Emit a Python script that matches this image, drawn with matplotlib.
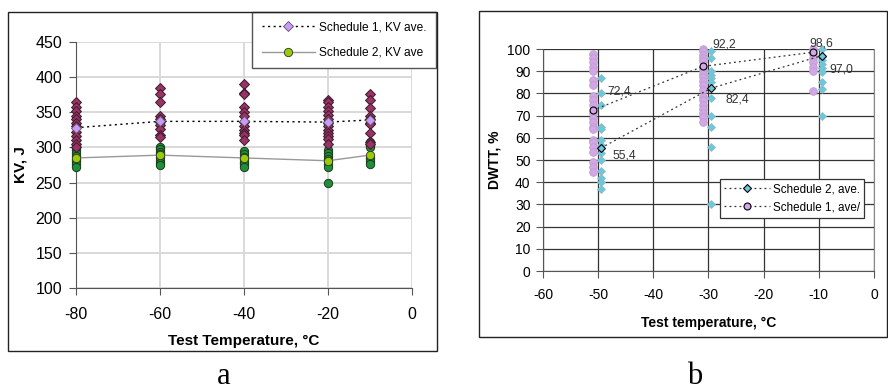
import matplotlib
matplotlib.use("Agg")
import matplotlib.pyplot as plt
from matplotlib.patches import Rectangle

plt.rcParams['font.family'] = ['Liberation Sans', 'DejaVu Sans']
plt.rcParams['axes.unicode_minus'] = False

# ---------------- Panel a data (KV, J) ----------------
kv_temps = [-80, -60, -40, -20, -10]
kv_s1_points = [
    [365, 358, 352, 345, 340, 335, 330, 322, 316, 310, 305, 300],
    [384, 376, 364, 344, 340, 336, 332, 326, 318, 315],
    [390, 378, 376, 357, 350, 345, 336, 330, 325, 320, 318, 310],
    [368, 364, 358, 352, 346, 340, 334, 330, 325, 320, 316, 312, 305],
    [376, 368, 356, 345, 340, 335, 333, 320, 308, 305],
]
kv_s2_points = [
    [300, 296, 292, 288, 284, 280, 276, 272],
    [301, 298, 294, 290, 286, 282, 278, 275],
    [295, 291, 287, 283, 279, 276, 272],
    [296, 292, 288, 284, 280, 276, 272, 249],
    [307, 303, 300, 285, 280, 277],
]
kv_s1_ave = [328, 337, 337, 336, 339]
kv_s2_ave = [285, 289, 285, 281, 289]

# ---------------- Panel b data (DWTT, %) ----------------
dw_s1_temps = [-51, -31, -11]
dw_s2_temps = [-49.5, -29.5, -9.5]
dw_s1_points = [
    [98, 96, 94, 92, 90, 86, 84, 79, 77, 75, 71, 69, 67, 65, 64, 59, 58, 56, 53.5, 49, 47, 44.5],
    [100, 99, 97.5, 96, 94.5, 92, 90.5, 89, 87.5, 85.5, 84, 81.5, 78.5, 77, 75, 73, 71, 69.5, 67],
    [100, 98, 96, 94, 92, 90, 81],
]
dw_s2_points = [
    [87, 80, 75, 65, 64, 59, 57, 53, 50, 45, 42, 40, 37],
    [99, 96, 90, 88.5, 87, 85, 78, 70, 65, 56, 30],
    [100, 97, 95, 93.5, 91.5, 89.5, 85, 82, 70],
]
dw_s1_ave = [72.4, 92.2, 98.6]
dw_s2_ave = [55.4, 82.4, 97.0]
dw_s1_labels = ["72,4", "92,2", "98,6"]
dw_s2_labels = ["55,4", "82,4", "97,0"]

fig = plt.figure(figsize=(8.88, 3.9), dpi=100)

# outer frames
fig.patches.append(Rectangle((0.009, 0.100), 0.483, 0.869, transform=fig.transFigure,
                             fill=False, edgecolor='#222222', linewidth=1.0))
fig.patches.append(Rectangle((0.5394, 0.1359), 0.4595, 0.836, transform=fig.transFigure,
                             fill=False, edgecolor='#222222', linewidth=1.0))

# ---------------- Panel a ----------------
ax1 = fig.add_axes([0.0856, 0.2615, 0.378, 0.631])
for t, pts in zip(kv_temps, kv_s2_points):
    ax1.plot([t] * len(pts), pts, linestyle='none', marker='o', markersize=6,
             markerfacecolor='#1f8f3a', markeredgecolor='#1a3a1a', markeredgewidth=0.7,
             zorder=3, clip_on=False)
for t, pts in zip(kv_temps, kv_s1_points):
    ax1.plot([t] * len(pts), pts, linestyle='none', marker='D', markersize=5,
             markerfacecolor='#993366', markeredgecolor='#3a1a2a', markeredgewidth=0.7,
             zorder=3, clip_on=False)
l1, = ax1.plot(kv_temps, kv_s1_ave, linestyle=(0, (1.5, 2.5)), color='black', linewidth=1.0,
               marker='D', markersize=5, markerfacecolor='#CC99FF', markeredgecolor='#555555',
               markeredgewidth=0.6, zorder=4, label='Schedule 1, KV ave.', clip_on=False)
l2, = ax1.plot(kv_temps, kv_s2_ave, linestyle='-', color='#999999', linewidth=1.0,
               marker='o', markersize=6, markerfacecolor='#99CC00', markeredgecolor='#333333',
               markeredgewidth=0.6, zorder=4, label='Schedule 2, KV ave', clip_on=False)
ax1.set_xlim(-80, 0)
ax1.set_ylim(100, 450)
ax1.set_xticks(range(-80, 1, 20))
ax1.set_yticks(range(100, 451, 50))
ax1.grid(True, color='#d9d9d9', linewidth=1.4, zorder=0)
ax1.set_axisbelow(True)
for s in ['top', 'right']:
    ax1.spines[s].set_visible(False)
for s in ['left', 'bottom']:
    ax1.spines[s].set_color('#555555')
ax1.tick_params(direction='out', length=5, color='#555555', labelsize=11.5)
ax1.tick_params(axis='x', pad=9)
ax1.tick_params(axis='y', pad=5)
ax1.set_xlabel('Test Temperature, °C', fontsize=11, fontweight='bold', labelpad=8)
ax1.set_ylabel('KV, J', fontsize=11, fontweight='bold', labelpad=6)
leg1 = ax1.legend(handles=[l1, l2], loc='upper left', bbox_to_anchor=(0.2838, 0.969),
                  bbox_transform=fig.transFigure, frameon=True, fancybox=False,
                  fontsize=8.6, handlelength=4.5, handletextpad=0.3, numpoints=1,
                  borderpad=0.8, labelspacing=1.1, borderaxespad=0, framealpha=1)
leg1.get_frame().set_edgecolor('#555555')
leg1.get_frame().set_linewidth(1.0)
leg1.set_zorder(10)

# ---------------- Panel b ----------------
ax2 = fig.add_axes([0.6115, 0.3051, 0.3727, 0.569])
for t, pts in zip(dw_s1_temps, dw_s1_points):
    ax2.plot([t] * len(pts), pts, linestyle='none', marker='o', markersize=5.5,
             markerfacecolor='#d4a6e8', markeredgecolor='#b9a0c8', markeredgewidth=0.6,
             zorder=3, clip_on=False)
for t, pts in zip(dw_s2_temps, dw_s2_points):
    ax2.plot([t] * len(pts), pts, linestyle='none', marker='D', markersize=4.5,
             markerfacecolor='#6cc8dc', markeredgecolor='#8fb8c4', markeredgewidth=0.5,
             zorder=3, clip_on=False)
m2, = ax2.plot(dw_s2_temps, dw_s2_ave, linestyle=(0, (1.5, 2.5)), color='#333333', linewidth=0.9,
               marker='D', markersize=4.3, markerfacecolor='#6cc8dc', markeredgecolor='black',
               markeredgewidth=0.8, zorder=4, label='Schedule 2, ave.', clip_on=False)
m1, = ax2.plot(dw_s1_temps, dw_s1_ave, linestyle=(0, (1.5, 2.5)), color='#333333', linewidth=0.9,
               marker='o', markersize=5, markerfacecolor='#d4a6e8', markeredgecolor='black',
               markeredgewidth=0.8, zorder=4, label='Schedule 1, ave/', clip_on=False)
s1_off = [(10.5, 13.4), (7, 15.8), (-2.9, 6.5)]
s2_off = [(8.2, -5), (10.3, -8.4), (5.3, -9.9)]
for t, v, lab, off in zip(dw_s1_temps, dw_s1_ave, dw_s1_labels, s1_off):
    ax2.annotate(lab, (t, v), xytext=off, textcoords='offset points', fontsize=8.7,
                 color='#333333', ha='left', va='center', zorder=5)
for t, v, lab, off in zip(dw_s2_temps, dw_s2_ave, dw_s2_labels, s2_off):
    ax2.annotate(lab, (t, v), xytext=off, textcoords='offset points', fontsize=8.7,
                 color='#333333', ha='left', va='center', zorder=5)
ax2.set_xlim(-60, 0)
ax2.set_ylim(0, 100)
ax2.set_xticks(range(-60, 1, 10))
ax2.set_yticks(range(0, 101, 10))
ax2.grid(True, color='#333333', linewidth=0.9, zorder=0)
ax2.set_axisbelow(True)
ax2.spines['top'].set_visible(False)
ax2.spines['right'].set_color('#888888')
for s in ['left', 'bottom']:
    ax2.spines[s].set_color('#555555')
ax2.tick_params(direction='out', length=5, color='#555555', labelsize=10)
ax2.tick_params(axis='x', pad=7)
ax2.tick_params(axis='y', pad=4)
ax2.set_xlabel('Test temperature, °C', fontsize=10, fontweight='bold', labelpad=10)
ax2.set_ylabel('DWTT, %', fontsize=10, fontweight='bold', labelpad=4)
leg2 = ax2.legend(handles=[m2, m1], loc='upper left', bbox_to_anchor=(0.8108, 0.541),
                  bbox_transform=fig.transFigure, frameon=True, fancybox=False,
                  fontsize=8.4, handlelength=3.9, handletextpad=0.3, numpoints=1,
                  borderpad=0.35, labelspacing=0.55, borderaxespad=0, framealpha=1)
leg2.get_frame().set_edgecolor('#333333')
leg2.get_frame().set_linewidth(0.9)
leg2.set_zorder(10)

fig.text(224 / 888, 1 - 377 / 390, 'a', fontsize=22, family=['Liberation Serif', 'DejaVu Serif'],
         ha='center', va='center')
fig.text(695 / 888, 1 - 377 / 390, 'b', fontsize=22, family=['Liberation Serif', 'DejaVu Serif'],
         ha='center', va='center')

fig.savefig('out.png', dpi=100)
